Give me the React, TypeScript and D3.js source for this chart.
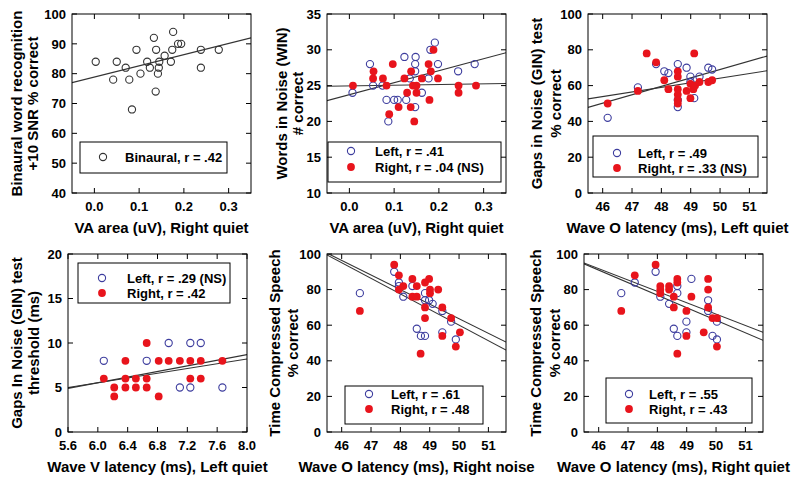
import React from 'react';
import * as d3 from 'd3';

type Pt = [number, number];

// ---- panel A: binaural word recognition vs VA area ----
const vaTicks = [0.0, 0.1, 0.2, 0.3];
const binauralTicksY = [40, 50, 60, 70, 80, 90, 100];
const binauralPts: Pt[] = [
  [0.003, 84], [0.05, 84], [0.07, 82], [0.042, 78], [0.078, 78], [0.094, 88], [0.103, 80],
  [0.084, 68], [0.118, 84], [0.124, 82], [0.133, 92], [0.138, 88], [0.142, 80], [0.144, 82],
  [0.145, 84], [0.137, 74], [0.157, 86], [0.171, 84], [0.174, 88], [0.176, 94], [0.187, 90],
  [0.194, 90], [0.238, 88], [0.238, 82], [0.278, 88],
];
const binauralFit: Pt[] = [[-0.05, 77], [0.35, 92]];

// ---- panel B: WIN vs VA area ----
const winTicksY = [10, 15, 20, 25, 30, 35];
const winLeft: Pt[] = [
  [0.007, 24], [0.046, 28], [0.053, 25], [0.074, 25], [0.083, 23], [0.087, 20], [0.1, 23],
  [0.108, 23], [0.127, 23], [0.123, 29], [0.148, 29], [0.147, 28], [0.147, 27], [0.135, 26],
  [0.162, 24], [0.177, 26], [0.181, 30], [0.191, 31], [0.198, 28], [0.147, 22], [0.243, 27],
  [0.28, 28],
];
const winRight: Pt[] = [
  [0.008, 25], [0.053, 26], [0.054, 27], [0.075, 26], [0.097, 28], [0.083, 25], [0.089, 21],
  [0.11, 22], [0.123, 26], [0.129, 24], [0.138, 27], [0.137, 22], [0.142, 25], [0.145, 20],
  [0.15, 24], [0.15, 25], [0.162, 26], [0.179, 23], [0.177, 28], [0.182, 27], [0.188, 30],
  [0.198, 26], [0.244, 25], [0.244, 24], [0.283, 25],
];
const winFitLeft: Pt[] = [[-0.05, 22.9], [0.35, 29.6]];
const winFitRight: Pt[] = [[-0.05, 24.9], [0.35, 25.3]];

// ---- panel C: GIN % correct vs wave O latency, left quiet ----
const waveOTicks = [46, 47, 48, 49, 50, 51];
const pctTicks = [0, 20, 40, 60, 80, 100];
const ginLeft: Pt[] = [
  [46.17, 42], [47.2, 59], [47.82, 72], [48.1, 68], [48.24, 67], [48.56, 72], [48.56, 52],
  [48.56, 48], [48.86, 70], [48.99, 65], [48.99, 62], [49.12, 53], [49.3, 65], [49.6, 70],
  [49.73, 69],
];
const ginRight: Pt[] = [
  [46.17, 50], [47.2, 57], [47.5, 78], [47.82, 73], [48.1, 63], [48.24, 58], [48.56, 68],
  [48.56, 65], [48.56, 58], [48.56, 55], [48.56, 52], [48.56, 50], [48.86, 57], [48.99, 61],
  [48.99, 53], [49.09, 58], [49.12, 78], [49.15, 60], [49.3, 62], [49.6, 62], [49.73, 63],
];
const ginFitLeft: Pt[] = [[45.5, 47.8], [51.6, 76.5]];
const ginFitRight: Pt[] = [[45.5, 52.6], [51.6, 68.3]];

// ---- panel D: GIN threshold vs wave V latency ----
const waveVTicks = [5.6, 6.0, 6.4, 6.8, 7.2, 7.6, 8.0];
const thrTicksY = [0, 5, 10, 15, 20];
const thrLeft: Pt[] = [
  [6.08, 8], [6.655, 8], [6.95, 10], [7.24, 10], [7.38, 10], [7.1, 5], [7.24, 5], [7.67, 5],
];
const thrRight: Pt[] = [
  [6.08, 6], [6.22, 5], [6.22, 4], [6.37, 8], [6.37, 6], [6.37, 5], [6.51, 6], [6.51, 5],
  [6.655, 10], [6.655, 6], [6.655, 5], [6.816, 8], [6.816, 4], [6.95, 8], [7.1, 8], [7.24, 8],
  [7.24, 6], [7.38, 8], [7.38, 6], [7.67, 8],
];
const thrFitLeft: Pt[] = [[5.6, 5.0], [8.0, 8.2]];
const thrFitRight: Pt[] = [[5.6, 4.9], [8.0, 8.7]];

// ---- panel E: TCS vs wave O latency, right noise ----
const tcsNoiseLeft: Pt[] = [
  [46.62, 78], [47.79, 90], [47.95, 84], [47.95, 82], [48.1, 76], [48.41, 82], [48.84, 78],
  [48.84, 74], [48.98, 74], [49.1, 72], [49.43, 68], [49.73, 62], [49.43, 56], [49.89, 52],
  [48.56, 58], [48.7, 54], [48.84, 54],
];
const tcsNoiseRight: Pt[] = [
  [46.62, 68], [47.79, 94], [47.95, 88], [47.95, 80], [48.1, 82], [48.41, 86], [48.41, 76],
  [48.56, 82], [48.56, 76], [48.84, 84], [48.98, 86], [48.84, 70], [48.84, 64], [49.01, 80],
  [49.01, 78], [49.29, 80], [49.43, 70], [49.43, 54], [49.73, 64], [49.89, 48], [50.03, 56],
  [48.69, 44],
];
const tcsNoiseFitLeft: Pt[] = [[45.5, 99.5], [51.6, 46]];
const tcsNoiseFitRight: Pt[] = [[45.5, 100.5], [51.6, 50.5]];

// ---- panel F: TCS vs wave O latency, right quiet ----
const tcsQuietLeft: Pt[] = [
  [46.77, 78], [47.23, 84], [47.94, 90], [48.1, 76], [48.4, 72], [48.68, 82], [48.68, 78],
  [48.56, 58], [48.68, 54], [48.99, 62], [48.99, 56], [49.16, 86], [49.73, 74], [49.73, 68],
  [49.88, 54], [50.03, 62], [50.03, 52],
];
const tcsQuietRight: Pt[] = [
  [46.77, 68], [47.23, 88], [47.94, 94], [48.1, 82], [48.1, 80], [48.1, 78], [48.4, 82],
  [48.4, 80], [48.56, 76], [48.56, 70], [48.68, 86], [48.68, 84], [48.99, 68], [48.99, 54],
  [49.16, 76], [48.68, 44], [49.58, 56], [49.73, 86], [49.73, 80], [49.73, 70], [49.88, 64],
  [50.03, 64], [50.03, 48],
];
const tcsQuietFitLeft: Pt[] = [[45.5, 94.5], [51.6, 51.5]];
const tcsQuietFitRight: Pt[] = [[45.5, 95], [51.6, 56]];

const BLUE = '#3d3d9e';
const RED = '#e8141c';
const FONT = 'Arial, "Liberation Sans", sans-serif';

type Kind = 'black' | 'open' | 'filled';
interface Series { pts: Pt[]; kind: Kind }
interface LegendItem { kind: Kind; label: string }
interface PanelProps {
  frame: { l: number; r: number; t: number; b: number };
  xDomain: [number, number];
  yDomain: [number, number];
  xTicks: number[];
  yTicks: number[];
  xFmt: (v: number) => string;
  xTitle: string;
  yTitle: string[];
  yTitleX: number[];
  series: Series[];
  fits: Pt[][];
  legend: { x: number; y: number; w: number; h: number; sx: number; tx: number; rows: number[] };
  legendItems: LegendItem[];
}

const Marker: React.FC<{ kind: Kind; cx: number; cy: number }> = ({ kind, cx, cy }) => {
  if (kind === 'filled') return <circle cx={cx} cy={cy} r={3.9} fill={RED} />;
  return (
    <circle cx={cx} cy={cy} r={3.6} fill="none" stroke={kind === 'open' ? BLUE : '#333'} strokeWidth={1.1} />
  );
};

const Panel: React.FC<PanelProps> = (p) => {
  const { l, r, t, b } = p.frame;
  const x = d3.scaleLinear().domain(p.xDomain).range([l, r]);
  const y = d3.scaleLinear().domain(p.yDomain).range([b, t]);
  const line = d3.line<Pt>().x((d) => x(d[0])).y((d) => y(d[1]));
  const tk = 5;
  const yMid = (t + b) / 2;
  return (
    <g fontFamily={FONT}>
      <defs>
        <clipPath id={`clip-${l}-${t}`}>
          <rect x={l} y={t} width={r - l} height={b - t} />
        </clipPath>
      </defs>
      {/* ticks */}
      {p.xTicks.map((v) => (
        <g key={`x${v}`}>
          <line x1={x(v)} x2={x(v)} y1={b} y2={b - tk} stroke="#000" />
          <line x1={x(v)} x2={x(v)} y1={t} y2={t + tk} stroke="#000" />
          <text x={x(v)} y={b + 18} textAnchor="middle" fontSize={13} fontWeight="bold">
            {p.xFmt(v)}
          </text>
        </g>
      ))}
      {p.yTicks.map((v) => (
        <g key={`y${v}`}>
          <line x1={l} x2={l + tk} y1={y(v)} y2={y(v)} stroke="#000" />
          <line x1={r} x2={r - tk} y1={y(v)} y2={y(v)} stroke="#000" />
          <text x={l - 6} y={y(v)} dy="0.36em" textAnchor="end" fontSize={13} fontWeight="bold">
            {v}
          </text>
        </g>
      ))}
      {/* fit lines */}
      <g clipPath={`url(#clip-${l}-${t})`}>
        {p.fits.map((f, i) => (
          <path key={i} d={line(f) || ''} fill="none" stroke="#333" strokeWidth={1.1} />
        ))}
      </g>
      {/* points */}
      {p.series.map((s, i) => (
        <g key={i}>
          {s.pts.map((d, j) => (
            <Marker key={j} kind={s.kind} cx={x(d[0])} cy={y(d[1])} />
          ))}
        </g>
      ))}
      <rect x={l} y={t} width={r - l} height={b - t} fill="none" stroke="#000" strokeWidth={1} />
      {/* legend */}
      <rect x={p.legend.x} y={p.legend.y} width={p.legend.w} height={p.legend.h} fill="none" stroke="#000" />
      {p.legendItems.map((it, i) => (
        <g key={it.label}>
          <Marker kind={it.kind} cx={p.legend.sx} cy={p.legend.rows[i]} />
          <text x={p.legend.tx} y={p.legend.rows[i]} dy="0.36em" fontSize={13} fontWeight="bold">
            {it.label}
          </text>
        </g>
      ))}
      {/* titles */}
      <text x={(l + r) / 2} y={b + 40} textAnchor="middle" fontSize={15} fontWeight="bold">
        {p.xTitle}
      </text>
      {p.yTitle.map((s, i) => (
        <text
          key={s}
          transform={`translate(${p.yTitleX[i]},${yMid}) rotate(-90)`}
          dy="0.36em"
          textAnchor="middle"
          fontSize={15}
          fontWeight="bold"
        >
          {s}
        </text>
      ))}
    </g>
  );
};

const f1 = d3.format('.1f');
const f0 = d3.format('d');

export default function App() {
  return (
    <svg width={800} height={483} style={{ position: 'absolute', left: 0, top: 0, background: '#fff' }}>
      <rect width={800} height={483} fill="#fff" />
      <Panel
        frame={{ l: 72, r: 251, t: 14, b: 193 }}
        xDomain={[-0.05, 0.35]}
        yDomain={[40, 100]}
        xTicks={vaTicks}
        yTicks={binauralTicksY}
        xFmt={f1}
        xTitle="VA area (uV), Right quiet"
        yTitle={['Binaural word recognition', '+10 SNR % correct']}
        yTitleX={[17, 33]}
        series={[{ pts: binauralPts, kind: 'black' }]}
        fits={[binauralFit]}
        legend={{ x: 80, y: 142, w: 147, h: 31, sx: 103, tx: 125, rows: [157] }}
        legendItems={[{ kind: 'black', label: 'Binaural, r = .42' }]}
      />
      <Panel
        frame={{ l: 327, r: 506, t: 14, b: 193 }}
        xDomain={[-0.05, 0.35]}
        yDomain={[10, 35]}
        xTicks={vaTicks}
        yTicks={winTicksY}
        xFmt={f1}
        xTitle="VA area (uV), Right quiet"
        yTitle={['Words in Noise (WIN)', '# correct']}
        yTitleX={[282, 298]}
        series={[{ pts: winLeft, kind: 'open' }, { pts: winRight, kind: 'filled' }]}
        fits={[winFitLeft, winFitRight]}
        legend={{ x: 328, y: 142, w: 173, h: 40, sx: 351, tx: 375, rows: [151, 167] }}
        legendItems={[
          { kind: 'open', label: 'Left, r = .41' },
          { kind: 'filled', label: 'Right, r = .04 (NS)' },
        ]}
      />
      <Panel
        frame={{ l: 588, r: 767, t: 14, b: 193 }}
        xDomain={[45.5, 51.6]}
        yDomain={[0, 100]}
        xTicks={waveOTicks}
        yTicks={pctTicks}
        xFmt={f0}
        xTitle="Wave O latency (ms), Left quiet"
        yTitle={['Gaps in Noise (GIN) test', '% correct']}
        yTitleX={[537, 556]}
        series={[{ pts: ginLeft, kind: 'open' }, { pts: ginRight, kind: 'filled' }]}
        fits={[ginFitLeft, ginFitRight]}
        legend={{ x: 593, y: 136, w: 165, h: 41, sx: 617, tx: 638, rows: [153, 168] }}
        legendItems={[
          { kind: 'open', label: 'Left, r = .49' },
          { kind: 'filled', label: 'Right, r = .33 (NS)' },
        ]}
      />
      <Panel
        frame={{ l: 68, r: 247, t: 254, b: 432 }}
        xDomain={[5.6, 8.0]}
        yDomain={[0, 20]}
        xTicks={waveVTicks}
        yTicks={thrTicksY}
        xFmt={f1}
        xTitle="Wave V latency (ms), Left quiet"
        yTitle={['Gaps In Noise (GIN) test', 'threshold (ms)']}
        yTitleX={[17, 34]}
        series={[{ pts: thrLeft, kind: 'open' }, { pts: thrRight, kind: 'filled' }]}
        fits={[thrFitLeft, thrFitRight]}
        legend={{ x: 78, y: 263, w: 152, h: 40, sx: 102, tx: 127, rows: [278, 293] }}
        legendItems={[
          { kind: 'open', label: 'Left, r = .29 (NS)' },
          { kind: 'filled', label: 'Right, r = .42' },
        ]}
      />
      <Panel
        frame={{ l: 327, r: 506, t: 254, b: 432 }}
        xDomain={[45.5, 51.6]}
        yDomain={[0, 100]}
        xTicks={waveOTicks}
        yTicks={pctTicks}
        xFmt={f0}
        xTitle="Wave O latency (ms), Right noise"
        yTitle={['Time Compressed Speech', '% correct']}
        yTitleX={[275, 293]}
        series={[{ pts: tcsNoiseLeft, kind: 'open' }, { pts: tcsNoiseRight, kind: 'filled' }]}
        fits={[tcsNoiseFitLeft, tcsNoiseFitRight]}
        legend={{ x: 345, y: 386, w: 138, h: 38, sx: 369, tx: 391, rows: [394, 409] }}
        legendItems={[
          { kind: 'open', label: 'Left, r = .61' },
          { kind: 'filled', label: 'Right, r = .48' },
        ]}
      />
      <Panel
        frame={{ l: 584, r: 763, t: 254, b: 432 }}
        xDomain={[45.5, 51.6]}
        yDomain={[0, 100]}
        xTicks={waveOTicks}
        yTicks={pctTicks}
        xFmt={f0}
        xTitle="Wave O latency (ms), Right quiet"
        yTitle={['Time Compressed Speech', '% correct']}
        yTitleX={[536, 555]}
        series={[{ pts: tcsQuietLeft, kind: 'open' }, { pts: tcsQuietRight, kind: 'filled' }]}
        fits={[tcsQuietFitLeft, tcsQuietFitRight]}
        legend={{ x: 606, y: 378, w: 146, h: 45, sx: 629, tx: 649, rows: [394, 409] }}
        legendItems={[
          { kind: 'open', label: 'Left, r = .55' },
          { kind: 'filled', label: 'Right, r = .43' },
        ]}
      />
    </svg>
  );
}
